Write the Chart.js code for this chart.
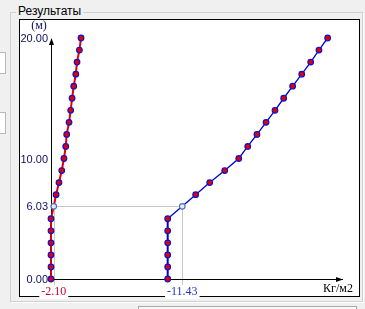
<!DOCTYPE html>
<html>
<head>
<meta charset="utf-8">
<script src="https://cdn.jsdelivr.net/npm/chart.js@4"></script>
<style>
  html, body { margin: 0; padding: 0; background: #f0f0f0; }
  #wrap { position: relative; width: 365px; height: 309px; overflow: hidden; font-family: "Liberation Sans", sans-serif; }
  .box { position: absolute; }
  #group { left: 10px; top: 12px; width: 352px; height: 289px; border: 1px solid #d0d0d0; border-right-color: #fff; border-bottom-color: #fff; box-shadow: inset -1px -1px 0 #d0d0d0; }
  #title { left: 16px; top: 4px; padding: 0 2px; background: #f0f0f0; font-size: 12px; color: #000; }
  #panel { left: 19px; top: 19px; width: 339px; height: 276px; background: #fff; border: 1px solid #000; }
  .inp { left: -4px; width: 8px; height: 20px; background: #fff; border: 1px solid #b8b8b8; }
  #bar { left: 138px; top: 306px; width: 217px; height: 6px; background: #f8f8f8; border: 1px solid #a8a8a8; }
  canvas { position: absolute; left: 0; top: 0; }
</style>
</head>
<body>
<div id="wrap">
  <div class="box inp" style="top:52px"></div>
  <div class="box inp" style="top:112px"></div>
  <div class="box" id="group"></div>
  <div class="box" id="title">Результаты</div>
  <div class="box" id="panel"></div>
  <div class="box" id="bar"></div>
  <canvas id="chart" width="365" height="309"></canvas>
</div>
<script>
// depth, m
const depths = [0, 1, 2, 3, 4, 5, 6.03, 7, 8, 9, 10, 11, 12, 13, 14, 15, 16, 17, 18, 19, 20];
// kg/m2
const redValues = [-1.90, -1.90, -1.90, -1.90, -1.90, -1.90, -2.10, -2.27, -2.48, -2.68, -2.84,
  -2.97, -3.04, -3.21, -3.33, -3.43, -3.55, -3.70, -3.79, -3.96, -4.08];
const blueValues = [-10.37, -10.37, -10.37, -10.37, -10.37, -10.37, -11.43, -12.40, -13.42, -14.51, -15.53,
  -16.18, -16.85, -17.51, -18.16, -18.79, -19.44, -20.10, -20.75, -21.35, -21.98];

const crossDepth = 6.03;
const crossValues = [-2.10, -11.43];
const crossColors = ["#cc0033", "#2030c0"];
const yTicks = [0, 6.03, 10, 20];
const yTitle = "(м)";
const xTitle = "Кг/м2";
const xStart = -1.90;
const xEnd = -23.24;

const hollow = ctx => depths[ctx.dataIndex] === crossDepth;

const decor = {
  id: "decor",
  beforeDatasetsDraw(chart) {
    const { ctx, scales: { x, y } } = chart;
    const ax = Math.round(x.getPixelForValue(xStart)) + 0.5;
    const ay = Math.round(y.getPixelForValue(0)) + 0.5;
    const cy = Math.round(y.getPixelForValue(crossDepth)) + 0.5;
    ctx.save();

    // crosshair lines
    ctx.strokeStyle = "#c8c8c8";
    ctx.lineWidth = 1;
    ctx.beginPath();
    ctx.moveTo(ax, cy);
    ctx.lineTo(Math.round(x.getPixelForValue(crossValues[1])) + 0.5, cy);
    crossValues.forEach(v => {
      const px = Math.round(x.getPixelForValue(v)) + 0.5;
      ctx.moveTo(px, cy);
      ctx.lineTo(px, 288);
    });
    ctx.stroke();

    // axes
    const topY = y.getPixelForValue(20);
    const endX = 343;
    ctx.strokeStyle = "#000";
    ctx.beginPath();
    ctx.moveTo(ax, ay);
    ctx.lineTo(ax, topY + 2);
    ctx.moveTo(ax, ay);
    ctx.lineTo(endX, ay);
    ctx.stroke();
    ctx.fillStyle = "#000";
    ctx.beginPath();
    ctx.moveTo(ax, topY);
    ctx.lineTo(ax - 2.5, topY + 7);
    ctx.lineTo(ax + 2.5, topY + 7);
    ctx.closePath();
    ctx.fill();
    ctx.beginPath();
    ctx.moveTo(endX, ay);
    ctx.lineTo(endX - 7, ay - 2.5);
    ctx.lineTo(endX - 7, ay + 2.5);
    ctx.closePath();
    ctx.fill();

    // y tick labels
    ctx.font = "11px 'Liberation Sans', sans-serif";
    ctx.fillStyle = "#101060";
    ctx.textAlign = "right";
    ctx.textBaseline = "middle";
    yTicks.forEach(t => {
      ctx.fillText(t.toFixed(2), 48, y.getPixelForValue(t) + 1);
    });

    // axis titles
    ctx.font = "12px 'Liberation Serif', serif";
    ctx.textAlign = "center";
    ctx.fillStyle = "#101060";
    ctx.fillText(yTitle, 39, 26);
    ctx.fillStyle = "#000";
    ctx.fillText(xTitle, 338, 289);

    // values at the cross depth, over the panel border
    crossValues.forEach((v, i) => {
      const px = x.getPixelForValue(v);
      const txt = v.toFixed(2);
      const w = ctx.measureText(txt).width;
      ctx.fillStyle = "#fff";
      ctx.fillRect(px - w / 2 - 2, 285, w + 4, 14);
      ctx.fillStyle = crossColors[i];
      ctx.fillText(txt, px, 292);
    });
    ctx.restore();
  }
};

new Chart(document.getElementById("chart"), {
  type: "line",
  data: {
    datasets: [
      {
        data: depths.map((d, i) => ({ x: redValues[i], y: d })),
        borderColor: "#e00000",
        borderWidth: 2,
        pointRadius: 2.8,
        pointBorderWidth: 1.2,
        pointBackgroundColor: ctx => hollow(ctx) ? "#e4ebf8" : "#e00000",
        pointBorderColor: ctx => hollow(ctx) ? "#5070c0" : "#1010d0",
        clip: false
      },
      {
        data: depths.map((d, i) => ({ x: blueValues[i], y: d })),
        borderColor: "#0000d0",
        borderWidth: 1.3,
        segment: { borderWidth: ctx => ctx.p1DataIndex <= 5 ? 2 : 1.3 },
        pointRadius: 2.8,
        pointBorderWidth: 1.2,
        pointBackgroundColor: ctx => hollow(ctx) ? "#e4ebf8" : "#e00000",
        pointBorderColor: ctx => hollow(ctx) ? "#5070c0" : "#1010d0",
        clip: false
      }
    ]
  },
  options: {
    responsive: false,
    animation: false,
    layout: { padding: { left: 51, right: 20, top: 38, bottom: 30 } },
    plugins: { legend: { display: false }, tooltip: { enabled: false } },
    scales: {
      x: { type: "linear", display: false, reverse: true, min: xEnd, max: xStart },
      y: { type: "linear", display: false, min: 0, max: 20 }
    }
  },
  plugins: [decor]
});
</script>
</body>
</html>
